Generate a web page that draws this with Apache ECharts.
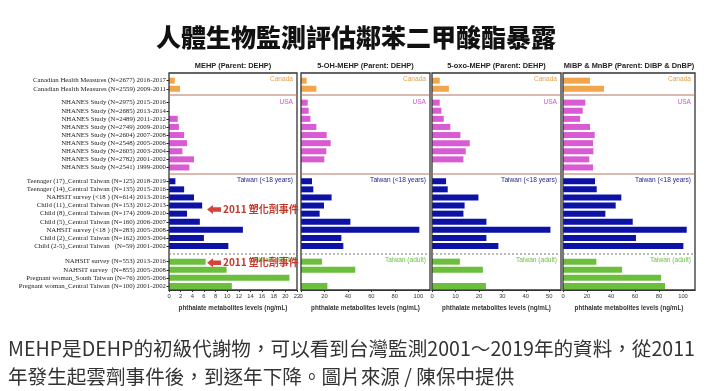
<!DOCTYPE html>
<html><head><meta charset="utf-8">
<script src="https://cdn.jsdelivr.net/npm/echarts/dist/echarts.min.js"></script>
<style>html,body{margin:0;padding:0;background:#fff}#c{width:720px;height:391px}</style>
</head><body><div id="c"></div><script>
// ---- categories ----
const canadaLabels = [
  'Canadian Health Measures (N=2677) 2016-2017',
  'Canadian Health Measures (N=2559) 2009-2011'];
const usaLabels = [
  'NHANES Study (N=2975) 2015-2016','NHANES Study (N=2685) 2013-2014','NHANES Study (N=2489) 2011-2012',
  'NHANES Study (N=2749) 2009-2010','NHANES Study (N=2604) 2007-2008','NHANES Study (N=2548) 2005-2006',
  'NHANES Study (N=2605) 2003-2004','NHANES Study (N=2782) 2001-2002','NHANES Study (N=2541) 1999-2000'];
const twChildLabels = [
  'Teenager (17)_Central Taiwan (N=125) 2018-2019','Teenager (14)_Central Taiwan (N=135) 2015-2016',
  'NAHSIT survey (<18 ) (N=614) 2013-2016','Child (11)_Central Taiwan (N=153) 2012-2013',
  'Child (8)_Central Taiwan (N=174) 2009-2010','Child (5)_Central Taiwan (N=160) 2006-2007',
  'NAHSIT survey (<18 ) (N=283) 2005-2008','Child (2)_Central Taiwan (N=162) 2003-2004',
  'Child (2-5)_Central Taiwan   (N=59) 2001-2002'];
const twAdultLabels = [
  'NAHSIT survey (N=553) 2013-2016','NAHSIT survey  (N=855) 2005-2008',
  'Pregnant woman_South Taiwan (N=76) 2005-2006','Pregnant woman_Central Taiwan (N=100) 2001-2002'];
const groupNames = ['Canada','USA','Taiwan (<18 years)','Taiwan (adult)'];
const panelTitles = ['MEHP (Parent: DEHP)','5-OH-MEHP (Parent: DEHP)','5-oxo-MEHP (Parent: DEHP)','MiBP & MnBP (Parent: DiBP & DnBP)'];
const axisTitle = 'phthalate metabolites levels (ng/mL)';
const panelMax = [22,110,55,110];
const panelInterval = [2,20,10,20];

// ---- values (ng/mL) ----
const mehpCanada = [1.0, 1.9];
const mehpUsa = [null, null, 1.5, 1.7, 2.6, 3.1, 2.3, 4.3, 3.5];
const mehpTwChild = [1.1, 2.6, 4.3, 5.7, 3.1, 5.3, 12.7, 6.0, 10.2];
const mehpTwAdult = [6.3, 9.9, 20.7, 10.8];

const ohCanada = [4.8, 13.1];
const ohUsa = [5.7, 6.5, 8.0, 13.1, 21.9, 25.3, 21.6, 19.9, null];
const ohTwChild = [9.4, 10.5, 26.1, 19.6, 15.9, 42.1, 100.9, 34.4, 36.1];
const ohTwAdult = [17.9, 46.3, null, 22.5];

const oxoCanada = [3.3, 7.2];
const oxoUsa = [3.3, 4.0, 5.0, 7.8, 12.1, 16.1, 14.4, 13.4, null];
const oxoTwChild = [6.0, 6.7, 19.8, 13.9, 13.4, 23.2, 50.5, 23.2, 28.3];
const oxoTwAdult = [11.9, 21.7, null, 23.0];

const bpCanada = [22.5, 34.2];
const bpUsa = [18.6, 16.4, 14.2, 22.5, 26.4, 25.0, 25.3, 21.9, 25.0];
const bpTwChild = [26.7, 28.1, 48.6, 43.9, 35.3, 58.1, 103.1, 60.8, 100.3];
const bpTwAdult = [27.8, 49.2, 81.7, 85.0];

const mainTitle = '人體生物監測評估鄰苯二甲酸酯暴露';
const eventNote = '2011 塑化劑事件';
const caption1 = 'MEHP是DEHP的初級代謝物，可以看到台灣監測2001～2019年的資料，從2011';
const caption2 = '年發生起雲劑事件後，到逐年下降。圖片來源 / 陳保中提供';

// ---- layout / style ----
const panelData = [
  [mehpCanada, mehpUsa, mehpTwChild, mehpTwAdult],
  [ohCanada, ohUsa, ohTwChild, ohTwAdult],
  [oxoCanada, oxoUsa, oxoTwChild, oxoTwAdult],
  [bpCanada, bpUsa, bpTwChild, bpTwAdult]];
const groupLabels = [canadaLabels, usaLabels, twChildLabels, twAdultLabels];
const barColors = ['#f2a64c','#d95bd3','#0c12a6','#6bbf3c'];
const nameColors = ['#e3a04a','#cc55cc','#1f2a8a','#6bbf3c'];
const pL = [169, 301, 432, 563], pR = [297, 430, 561, 695];
const gTop = [76.6, 98.6, 177.2, 257.6], gH = [16.2, 72.9, 72.9, 32.4];
const nameY = [79.5, 102.5, 180, 260];
const frameTop = 73, frameBottom = 290;
const narrow = "'Liberation Sans Narrow','Arial Narrow','Liberation Sans',sans-serif";

const grids = [], xAxes = [], yAxes = [], series = [], graphics = [];
for (let p = 0; p < 4; p++) {
  for (let g = 0; g < 4; g++) {
    const idx = p * 4 + g;
    const isBottom = g === 3;
    grids.push({left: pL[p], top: gTop[g], width: pR[p] - pL[p], height: gH[g], containLabel: false, outerBoundsMode: 'none'});
    xAxes.push({
      type: 'value', gridIndex: idx, min: 0, max: panelMax[p], interval: panelInterval[p],
      show: isBottom,
      axisLine: {show: isBottom, lineStyle: {color: '#333', width: 1}},
      axisTick: {show: isBottom, length: 2, lineStyle: {color: '#333'}},
      axisLabel: {show: isBottom, fontSize: 5.8, color: '#333', margin: 3, fontFamily: narrow, showMaxLabel: p === 0},
      splitLine: {show: false},
      name: isBottom ? axisTitle : '', nameLocation: 'middle', nameGap: 15,
      nameTextStyle: {fontSize: 6.3, fontWeight: 'bold', color: '#333', fontFamily: narrow}
    });
    yAxes.push({
      type: 'category', gridIndex: idx, inverse: true, data: groupLabels[g],
      show: p === 0,
      axisLine: {show: false},
      axisTick: {show: p === 0, length: 2.5, alignWithLabel: true, lineStyle: {color: '#222'}},
      axisLabel: {show: p === 0, interval: 0, fontSize: 6.8, color: '#222', margin: 3,
        fontFamily: "'Liberation Serif','DejaVu Serif',serif"}
    });
    series.push({
      type: 'bar', xAxisIndex: idx, yAxisIndex: idx, data: panelData[p][g],
      barWidth: 6, itemStyle: {color: barColors[g]}, silent: true, animation: false
    });
  }
  // frame and separators
  graphics.push({type: 'rect', z: 10, shape: {x: pL[p], y: frameTop, width: pR[p] - pL[p], height: frameBottom - frameTop},
    style: {fill: null, stroke: '#333', lineWidth: 1.3}});
  graphics.push({type: 'line', z: 10, shape: {x1: pL[p], y1: 95, x2: pR[p], y2: 95}, style: {stroke: '#b5735f', lineWidth: 1}});
  graphics.push({type: 'line', z: 10, shape: {x1: pL[p], y1: 174, x2: pR[p], y2: 174}, style: {stroke: '#b5735f', lineWidth: 1}});
  graphics.push({type: 'line', z: 10, shape: {x1: pL[p], y1: 254, x2: pR[p], y2: 254}, style: {stroke: '#777', lineWidth: 1, lineDash: [2, 2]}});
  graphics.push({type: 'text', z: 10, x: (pL[p] + pR[p]) / 2, y: 66,
    style: {text: panelTitles[p], fontSize: 7.4, fontWeight: 'bold', fill: '#222', fontFamily: narrow, textAlign: 'center', textVerticalAlign: 'middle'}});
  for (let g = 0; g < 4; g++) {
    graphics.push({type: 'text', z: 10, x: pR[p] - 4, y: nameY[g],
      style: {text: groupNames[g], fontSize: 6.6, fill: nameColors[g], fontFamily: narrow, textAlign: 'right', textVerticalAlign: 'middle'}});
  }
}
// annotations
[209.5, 262.7].forEach(function (cy) {
  const x0 = 207;
  graphics.push({type: 'polygon', z: 20, shape: {points: [[x0, cy], [x0 + 6, cy - 4.5], [x0 + 6, cy - 2.2], [x0 + 14, cy - 2.2], [x0 + 14, cy + 2.2], [x0 + 6, cy + 2.2], [x0 + 6, cy + 4.5]]},
    style: {fill: '#d2443a'}});
  graphics.push({type: 'text', z: 20, x: x0 + 16, y: cy,
    style: {text: eventNote, fontSize: 10, fontWeight: 'bold', fill: '#c0392b', fontFamily: "'Noto Sans CJK TC',sans-serif", textVerticalAlign: 'middle'}});
});
// main title and caption
graphics.push({type: 'text', z: 20, x: 356, y: 37,
  style: {text: mainTitle, fontSize: 25, fontWeight: 900, fill: '#111', fontFamily: "'Noto Sans CJK TC',sans-serif", textAlign: 'center', textVerticalAlign: 'middle'}});
graphics.push({type: 'text', z: 20, x: 8, y: 349,
  style: {text: caption1, fontSize: 19.6, fill: '#333', fontFamily: "'Noto Sans CJK TC',sans-serif", textVerticalAlign: 'middle'}});
graphics.push({type: 'text', z: 20, x: 8, y: 377,
  style: {text: caption2, fontSize: 19.6, fill: '#333', fontFamily: "'Noto Sans CJK TC',sans-serif", textVerticalAlign: 'middle'}});

const chart = echarts.init(document.getElementById('c'));
chart.setOption({
  animation: false,
  backgroundColor: '#fff',
  grid: grids, xAxis: xAxes, yAxis: yAxes, series: series,
  graphic: {elements: graphics}
});
</script></body></html>
